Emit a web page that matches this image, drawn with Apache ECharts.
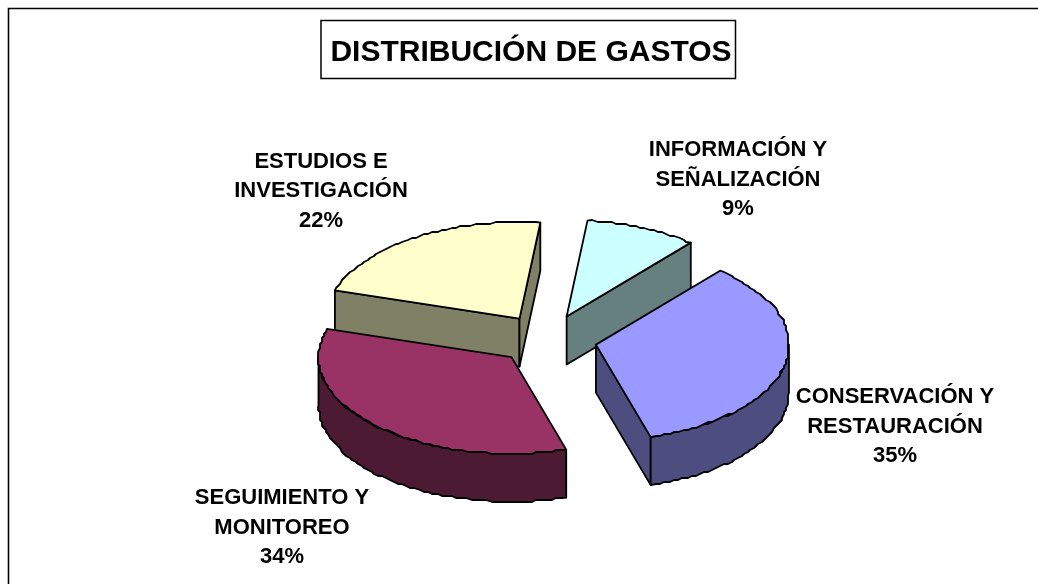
<!DOCTYPE html>
<html><head><meta charset="utf-8">
<style>html,body{margin:0;padding:0;background:#fff}#c{width:1038px;height:584px}</style>
<script src="https://cdn.jsdelivr.net/npm/echarts@6/dist/echarts.min.js"></script>
</head><body><div id="c"></div>
<script>
var titleText = 'DISTRIBUCIÓN DE GASTOS';
var categories = ['INFORMACIÓN Y\nSEÑALIZACIÓN', 'CONSERVACIÓN Y\nRESTAURACIÓN', 'SEGUIMIENTO Y\nMONITOREO', 'ESTUDIOS E\nINVESTIGACIÓN'];
var values = [9.4, 34.3, 34.3, 22.0];
var percentLabels = ['9%', '35%', '34%', '22%'];
var topColors = ['#CCFFFF', '#9999FF', '#993366', '#FFFFCC'];
var sideColors = ['#668080', '#4D4D80', '#4D1A33', '#808066'];
var labelPos = [[738, 179.5], [895, 426.5], [282, 527.5], [321, 191]];

var CX = 547, CY = 339.5, R = 193, K = 0.5, DEPTH = 48, EXPLODE = 50, START = 6.2, GRID = 2;
var total = values.reduce(function (a, b) { return a + b; }, 0);
var DEG = Math.PI / 180;
function pt(o, deg, r) { return [o[0] + r * Math.sin(deg * DEG), o[1] - r * K * Math.cos(deg * DEG)]; }
function down(p) { return [p[0], p[1] + DEPTH]; }
function poly(points, fill, z) {
  return { type: 'polygon', z2: z, shape: { points: points },
    style: { fill: fill, stroke: '#000', lineWidth: 1.8, lineJoin: 'round' } };
}
function arc(o, a0, a1) {
  var out = [], n = Math.max(2, Math.ceil(Math.abs(a1 - a0) / 1.5));
  for (var i = 0; i <= n; i++) {
    var p = pt(o, a0 + (a1 - a0) * i / n, R);
    if (i > 0 && i < n) p = [Math.round(p[0] / GRID) * GRID, Math.round(p[1] / GRID) * GRID];
    out.push(p);
  }
  return out;
}
function sliceShapes(a0, a1, top, side, z) {
  var o = pt([CX, CY], (a0 + a1) / 2, EXPLODE), kids = [];
  var s0 = Math.sin(a0 * DEG), s1 = Math.sin(a1 * DEG);
  if (s0 < 0) { var p = pt(o, a0, R); kids.push(poly([o, p, down(p), down(o)], side, z)); }
  if (s1 > 0) { var q = pt(o, a1, R); kids.push(poly([o, q, down(q), down(o)], side, z + 1)); }
  var w0 = Math.max(a0, 90), w1 = Math.min(a1, 270);
  if (w1 > w0) {
    var e = arc(o, w0, w1);
    kids.push(poly(e.concat(e.slice().reverse().map(down)), side, z + 2));
  }
  kids.push(poly([o].concat(arc(o, a0, a1)), top, z + 3));
  return kids;
}
var order = [0, 3, 2, 1];
var spans = [], acc = START;
values.forEach(function (v, i) { spans[i] = [acc, acc + v / total * 360]; acc = spans[i][1]; });

var chart = echarts.init(document.getElementById('c'), null, { renderer: 'canvas' });
chart.setOption({
  backgroundColor: '#fff',
  animation: false,
  graphic: [
    { type: 'polyline', z: 0, shape: { points: [[8.5, 590], [8.5, 8.5], [1040, 8.5]] },
      style: { fill: 'none', stroke: '#000', lineWidth: 1.6 } },
    { type: 'rect', z: 5, shape: { x: 321, y: 20.5, width: 414.5, height: 58 },
      style: { fill: '#fff', stroke: '#000', lineWidth: 1.5 } },
    { type: 'text', z: 6, x: 531, y: 52.5,
      style: { text: titleText, font: 'bold 30px "Liberation Sans", Arial, sans-serif', fill: '#000',
        align: 'center', verticalAlign: 'middle' } }
  ],
  series: [{
    type: 'custom',
    coordinateSystem: 'none',
    silent: true,
    data: values,
    renderItem: function (params) {
      var i = params.dataIndex;
      var rank = order.indexOf(i);
      return { type: 'group', children: sliceShapes(spans[i][0], spans[i][1], topColors[i], sideColors[i], rank * 10 + 10) };
    },
    z: 2
  }, {
    type: 'custom',
    coordinateSystem: 'none',
    silent: true,
    data: values,
    renderItem: function (params) {
      var i = params.dataIndex;
      return { type: 'text', x: labelPos[i][0], y: labelPos[i][1],
        style: { text: categories[i] + '\n' + percentLabels[i],
          font: 'bold 22px "Liberation Sans", Arial, sans-serif', lineHeight: 29.5,
          fill: '#000', align: 'center', verticalAlign: 'middle' } };
    },
    z: 3
  }]
});
</script></body></html>
